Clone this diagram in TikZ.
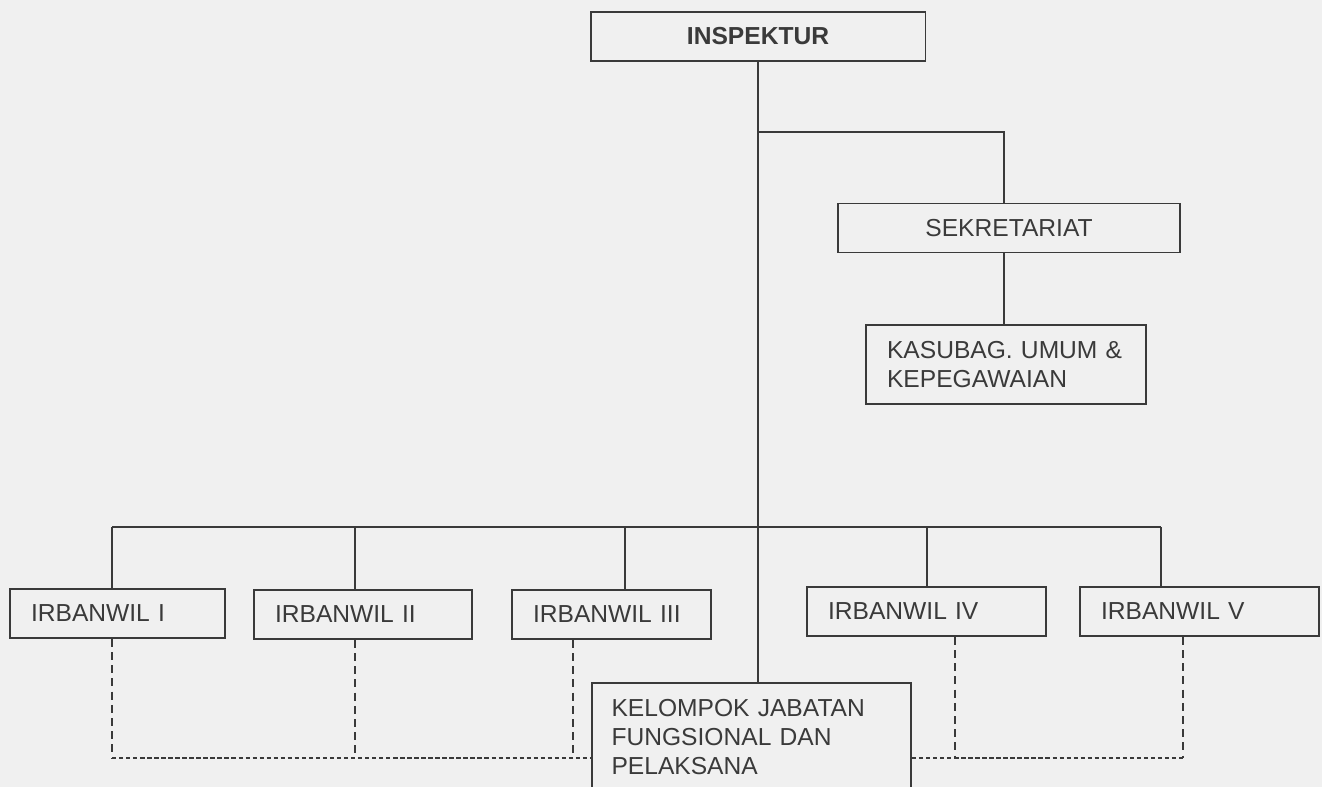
\documentclass[tikz,border=0pt]{standalone}
\usepackage{fontspec}
\setmainfont{Liberation Sans}
\usepackage{tikz}
\usetikzlibrary{calc}
\definecolor{PaperGray}{HTML}{F0F0F0}
\definecolor{InkGray}{HTML}{3A3A3A}

\begin{document}
\begin{tikzpicture}[x=0.02cm, y=-0.02cm,
  every node/.style={font=\fontsize{14}{16.5}\selectfont, text=InkGray},
  unit/.style={draw=InkGray, line width=1.1pt, minimum height=0.98cm, inner ysep=2pt},
  leftunit/.style={unit, align=left, inner xsep=0.42cm},
  link/.style={draw=InkGray, line width=1.1pt},
  thinlink/.style={draw=InkGray, line width=0.6pt},
  dotlink/.style={draw=InkGray, line width=0.7pt, dash pattern=on 4.5pt off 3pt},
  dotrun/.style={draw=InkGray, line width=0.9pt, dash pattern=on 2.5pt off 1.5pt}]
  \fill[PaperGray] (0,0) rectangle (1322,787);
  \useasboundingbox (0,0) rectangle (1322,787);

  % top of the chart
  \node[unit, minimum width=6.7cm, font=\fontsize{14}{16.5}\selectfont\bfseries] (insp) at (758,36.5) {INSPEKTUR};
  \node[unit, minimum width=6.84cm] (sekr) at (1009,228) {SEKRETARIAT};
  \node[leftunit, text width=4.76cm, minimum height=1.58cm] (kasub) at (1006,364.5) {KASUBAG. UMUM \&\\KEPEGAWAIAN};

  % irbanwil row
  \node[leftunit, text width=3.46cm] (irb1) at (117.5,613.5) {IRBANWIL I};
  \node[leftunit, text width=3.52cm] (irb2) at (363,614.5) {IRBANWIL II};
  \node[leftunit, text width=3.14cm] (irb3) at (611.5,614.5) {IRBANWIL III};
  \node[leftunit, text width=3.94cm] (irb4) at (926.5,611.5) {IRBANWIL IV};
  \node[leftunit, text width=3.94cm] (irb5) at (1199.5,611.5) {IRBANWIL V};

  \node[leftunit, text width=5.6cm, minimum height=2.16cm, inner xsep=0.39cm] (kel) at (751.5,737)
    {KELOMPOK JABATAN\\FUNGSIONAL DAN\\PELAKSANA};

  % solid lines
  \coordinate (bus) at (758,527);
  \coordinate (sk) at (1004,132);
  \draw[link] (insp.south) -- (bus);
  \draw[link] (sk -| insp) -- (sk) -- (sk |- sekr.north);
  \draw[link] (sekr.south -| sk) -- (kasub.north -| sk);
  \draw[thinlink] (bus) -- (bus |- kel.north);
  \foreach \n/\x in {1/112, 2/355, 3/625, 4/927, 5/1161} {
    \coordinate (top\n) at (\x,527);
    \draw[link] (top\n) -- (top\n |- irb\n.north);
  }
  \draw[link] (top1) -- (top5);

  % dashed lines
  \foreach \n/\x in {1/112, 2/355, 3/573, 4/955, 5/1183} {
    \coordinate (bot\n) at (\x,758);
    \draw[dotlink] (bot\n |- irb\n.south) -- (bot\n);
  }
  \draw[dotrun] (bot1) -- (bot1 -| kel.west);
  \draw[dotrun] (kel.east |- bot5) -- (bot5);
\end{tikzpicture}
\end{document}
